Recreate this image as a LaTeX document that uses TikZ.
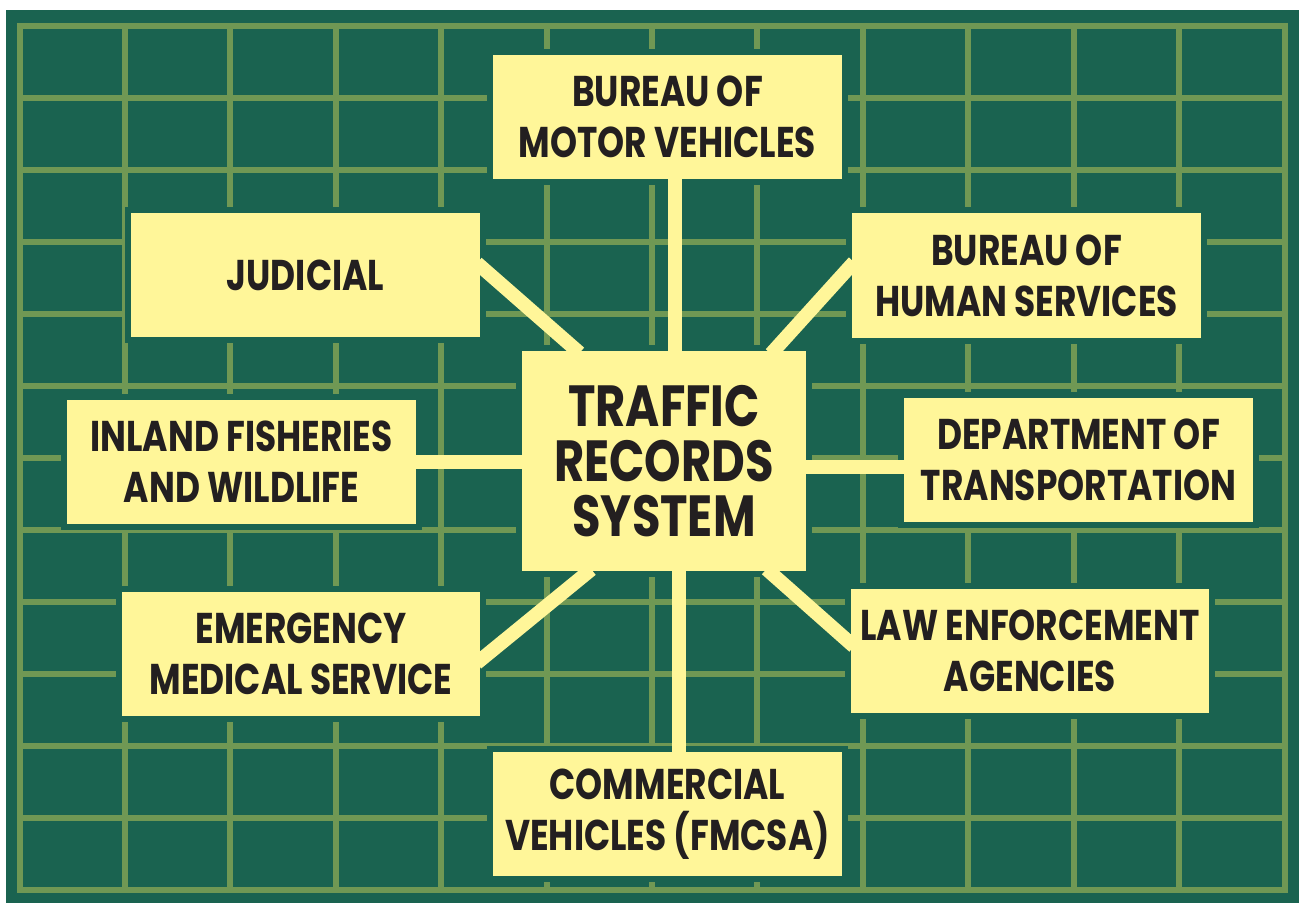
\documentclass[tikz,border=0pt]{standalone}
\usepackage{fontspec}
\newfontfamily\agfont[FakeStretch=0.8]{Poppins}
\usepackage{tikz}
\usetikzlibrary{positioning, calc}

\definecolor{boardgreen}{HTML}{1A6350}
\definecolor{gridgreen}{HTML}{709854}
\definecolor{padyellow}{HTML}{FFF699}
\definecolor{inkblack}{HTML}{231F20}

\tikzset{
  agency/.style   = {draw=boardgreen, line width=3pt, fill=padyellow,
                     minimum width=177.5pt, minimum height=65pt,
                     inner sep=0pt, align=center, text=inkblack,
                     font=\agfont\bfseries\fontsize{21.5}{25.5}\selectfont},
  wide/.style     = {minimum width=182pt},
  hub/.style      = {agency, minimum width=145pt, minimum height=113pt,
                     font=\agfont\bfseries\fontsize{29}{27.5}\selectfont},
  link/.style     = {draw=padyellow, line width=7pt,
                     shorten <=-6pt, shorten >=-6pt},
  gridline/.style = {draw=gridgreen, line width=3pt, line cap=rect},
}

\begin{document}
\begin{tikzpicture}[x=0.5pt, y=-0.5pt]

% ────────────────────────────────────────────────────────────
%  Board: 12 x 12 cells, outer frame (19.5,26) -- (1284.5,890)
% ────────────────────────────────────────────────────────────
\useasboundingbox (0,0) rectangle (1299,903);
\fill[boardgreen] (6,10) rectangle (1299,903);

\foreach \i in {0,...,12} {
  \draw[gridline] ({19.5+\i*105.4167},26) -- ({19.5+\i*105.4167},890);
  \draw[gridline] (19.5,{26+\i*72}) -- (1284.5,{26+\i*72});
}

% ═══════════════════════════════════════════════════════════
%  Hub in the middle
% ═══════════════════════════════════════════════════════════
\node[hub] (trs) at (664, 461) {TRAFFIC\\RECORDS\\SYSTEM};

% ═══════════════════════════════════════════════════════════
%  Agencies round the hub
% ═══════════════════════════════════════════════════════════
\node[agency] (bmv) at (667.5, 117)   {BUREAU OF\\MOTOR VEHICLES};
\node[agency] (jud) at (305.5, 275)   {JUDICIAL};
\node[agency] (bhs) at (1026.5, 275.5) {BUREAU OF\\HUMAN SERVICES};
\node[agency] (ifw) at (241.5, 461.5) {INLAND FISHERIES\\AND WILDLIFE};
\node[agency] (dot) at (1078.5, 460)  {DEPARTMENT OF\\TRANSPORTATION};
\node[agency, wide] (ems) at (301, 653.5) {EMERGENCY\\MEDICAL SERVICE};
\node[agency, wide] (lea) at (1030, 651)  {LAW ENFORCEMENT\\AGENCIES};
\node[agency] (cvf) at (667.5, 814)   {COMMERCIAL\\VEHICLES (FMCSA)};

% ── links (drawn last, so they run over the box rims) ──────
\draw[link] ([xshift=3.75pt]bmv.south) -- ([xshift=3.75pt]bmv.south |- trs.north);
\draw[link] ([xshift=5.75pt]cvf.north) -- ([xshift=5.75pt]cvf.north |- trs.south);
\draw[link] (ifw.east) -- (ifw.east -| trs.west);
\draw[link] ([yshift=-3.25pt]dot.west) -- ([yshift=-3.25pt]dot.west -| trs.east);
\draw[link] ([yshift=2pt]jud.east)     -- ([xshift=27.25pt]trs.north west);
\draw[link] ([yshift=2.25pt]bhs.west)  -- ([xshift=-16.5pt]trs.north east);
\draw[link] ([yshift=-1pt]ems.east)    -- ([xshift=33pt]trs.south west);
\draw[link] ([yshift=6.25pt]lea.west)  -- ([xshift=-18.25pt]trs.south east);

\end{tikzpicture}
\end{document}
